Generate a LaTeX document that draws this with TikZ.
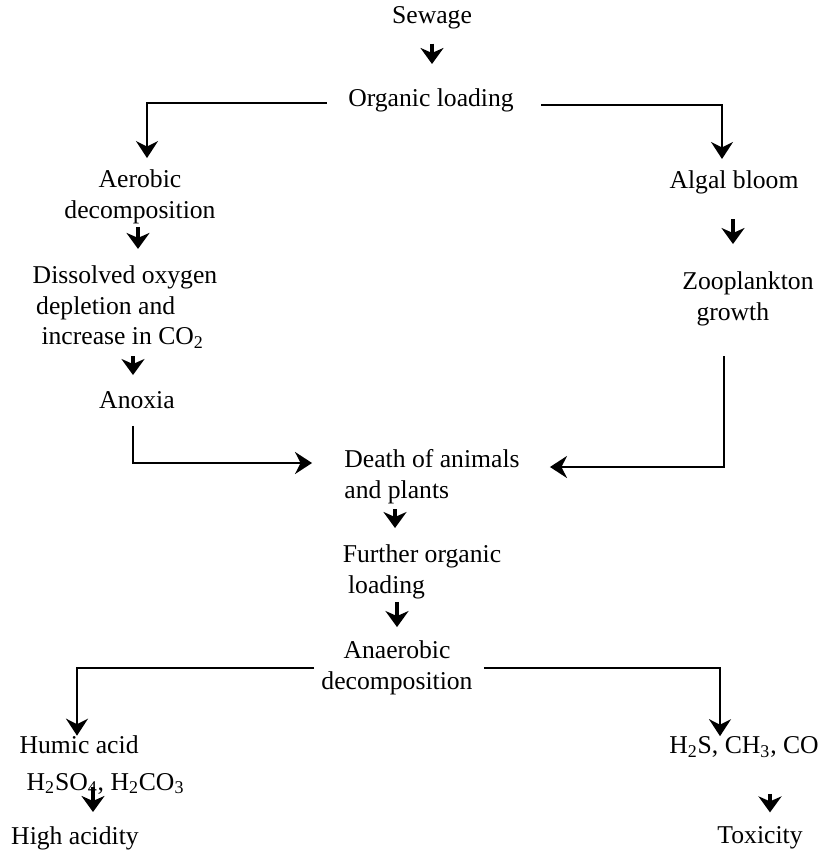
\documentclass[tikz,border=0pt]{standalone}
\usepackage{fontspec}
\setmainfont{Liberation Serif}
\usetikzlibrary{arrows.meta}

\begin{document}
\begin{tikzpicture}[x=0.02cm,y=-0.02cm,>=Stealth,
  txt/.style={inner sep=0pt,font=\fontsize{14.6}{17.6}\selectfont},
  larr/.style={->,line width=1.2pt,>={Stealth[length=3.4mm,width=4.4mm,inset=1.1mm]}},
  sarr/.style={->,line width=2.2pt,>={Stealth[length=3.2mm,width=4.6mm,inset=1mm]}}]
\useasboundingbox (0,0) rectangle (821,854);
% top
\node[txt] (sew) at (432,18) {Sewage};
\node[txt] (org) at (431,100) {Organic loading};
% left branch
\node[txt,align=center] (aer) at (140,197) {Aerobic\\decomposition};
\node[txt,align=left] (dox) at (125,307) {Dissolved oxygen\\\hspace*{2pt}depletion and\\\hspace*{5pt}increase in CO\textsubscript{2}};
\node[txt] (anox) at (137,400) {Anoxia};
% right branch
\node[txt] (alg) at (734,182) {Algal bloom};
\node[txt,align=left] (zoo) at (748,299) {Zooplankton\\\hspace*{8pt}growth};
% middle
\node[txt,align=left] (death) at (432,477) {Death of animals\\and plants};
\node[txt,align=left] (fur) at (422,572) {Further organic\\\hspace*{3pt}loading};
\node[txt,align=center] (ana) at (397,668) {Anaerobic\\decomposition};
% bottom
\node[txt,align=left] (hum) at (102,765) {Humic acid\\[3pt]\hspace*{4pt}H\textsubscript{2}SO\textsubscript{4}, H\textsubscript{2}CO\textsubscript{3}};
\node[txt] (high) at (75,838) {High acidity};
\node[txt] (gas) at (744,747) {H\textsubscript{2}S, CH\textsubscript{3}, CO};
\node[txt] (tox) at (760,838) {Toxicity};
% short arrows
\draw[sarr,shorten <=0.28cm,shorten >=0.48cm] (sew.south) -- (sew.south |- org.north);
\draw[sarr,shorten <=0.05cm,shorten >=0.32cm] ([xshift=-0.04cm]aer.south) -- ([xshift=-0.04cm]aer.south |- dox.north);
\draw[sarr,shorten <=0.14cm,shorten >=0.32cm] ([xshift=0.16cm]dox.south) -- ([xshift=0.16cm]dox.south |- anox.north);
\draw[sarr,shorten <=0.5cm,shorten >=0.55cm] ([xshift=-0.02cm]alg.south) -- ([xshift=-0.02cm]alg.south |- zoo.north);
\draw[sarr,shorten <=0.09cm,shorten >=0.33cm] ([xshift=-0.74cm]death.south) -- ([xshift=-0.74cm]death.south |- fur.north);
\draw[sarr,shorten <=0.05cm,shorten >=0.27cm] ([xshift=-0.5cm]fur.south) -- ([xshift=-0.5cm]fur.south |- ana.north);
\draw[sarr,shorten <=-0.14cm,shorten >=0.28cm] ([xshift=-0.18cm]hum.south) -- ([xshift=-0.18cm]hum.south |- high.north);
\draw[sarr,shorten <=0.72cm,shorten >=0.28cm] ([xshift=0.52cm]gas.south) -- ([xshift=0.52cm]gas.south |- tox.north);
% long connectors
\draw[larr,shorten <=0.42cm,shorten >=0.23cm] ([yshift=-0.06cm]org.west) -| ([xshift=0.14cm]aer.north);
\draw[larr,shorten <=0.54cm,shorten >=0.22cm] ([yshift=-0.1cm]org.east) -| ([xshift=-0.24cm]alg.north);
\draw[larr,shorten <=0.34cm,shorten >=0.64cm] ([xshift=-0.08cm]anox.south) |- ([yshift=0.28cm]death.west);
\draw[larr,shorten <=0.6cm,shorten >=0.6cm] ([xshift=-0.48cm]zoo.south) |- ([yshift=0.2cm]death.east);
\draw[larr,shorten <=0.14cm] (ana.west) -| ([xshift=-0.5cm]hum.north);
\draw[larr,shorten <=0.22cm] (ana.east) -| ([xshift=-0.48cm]gas.north);
\end{tikzpicture}
\end{document}
